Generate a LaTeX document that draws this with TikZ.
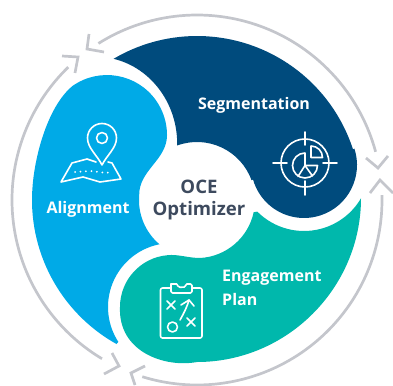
\documentclass[tikz,border=0pt]{standalone}
\usepackage{fontspec}
\setmainfont{Open Sans}
\definecolor{ringgrey}{HTML}{C4C6CC}
\definecolor{bluefill}{HTML}{00AAE7}
\definecolor{navyfill}{HTML}{004B7D}
\definecolor{tealfill}{HTML}{00B8AC}
\definecolor{slatetext}{HTML}{3D4A5E}
\tikzset{
  ringline/.style={draw=ringgrey,line width=2.7pt},
  chevron/.style={draw=ringgrey,line width=2.7pt,miter limit=10},
  iconline/.style={draw=white,line width=1.6pt,line cap=round,line join=round},
  labeltext/.style={text=white,font=\bfseries\fontsize{16}{20}\selectfont,inner sep=0pt},
  hubtext/.style={text=slatetext,font=\bfseries\fontsize{18.6}{23}\selectfont,inner sep=0pt}
}
\begin{document}
\begin{tikzpicture}[x=1pt,y=-1pt]
\useasboundingbox (0,0) rectangle (393,385);
\coordinate (ring) at (197,200);
% outer ring
\draw[ringline] ([shift={(ring)}]-15.1:185) arc (-15.1:-122.2:185);
\draw[ringline] ([shift={(ring)}]-134.1:185) arc (-134.1:-239.1:185);
\draw[ringline] ([shift={(ring)}]-1.5:185) arc (-1.5:107.2:185);
\draw[chevron] (89,34) -- (87,49) -- (104,52);
\draw[chevron] (62,56) -- (78,57) -- (75,73);
\draw[chevron] (112,353) -- (119,366) -- (104,374);
\draw[chevron] (145,366) -- (131,373) -- (135,385);
\draw[chevron] (366,158) -- (378,168) -- (388,156);
\draw[chevron] (370,193) -- (380,180) -- (393,193);
% Alignment lobe
\fill[bluefill] ([shift={(ring)}]119.2:165) arc (119.2:185:165)
  .. controls (35,155) and (48,106) .. (72.6,85.9)
  arc (235:360:60)
  .. controls (167,160) and (139,170) .. (139.2,195)
  arc (185:130:58)
  -- ([shift={(172,307)}]258:64) arc (258:147:64) -- cycle;
% Segmentation lobe
\fill[navyfill] ([shift={(ring)}]-120.6:164) arc (-120.6:-18:164)
  -- ([shift={(304,165)}]-18:53) arc (-18:164:53)
  -- ([shift={(ring)}]-20:58) arc (-20:-110:58)
  .. controls (178,105) and (152,68) .. (113.5,58.8) -- cycle;
% Engagement lobe
\fill[tealfill] (361,198) .. controls (361,288) and (287,362) .. (197,362)
  .. controls (165,368) and (118,352) .. (120,307)
  arc (180:265:52)
  .. controls (178,254) and (188,258) .. (200,258)
  arc (87:12:58)
  -- ([shift={(304,165)}]135:66) arc (135:30:66) -- cycle;
% labels
\node[hubtext] (hubtop) at (199,187) {OCE};
\node[hubtext] (hubbot) at (199,210.5) {Optimizer};
\node[labeltext] (align) at (88,209.5) {Alignment};
\node[labeltext] (segm) at (254,105.5) {Segmentation};
\node[labeltext,anchor=west] (engage) at (222,278) {Engagement};
\node[labeltext,anchor=west] (plan) at (222,299) {Plan};
% pin and map icon
\draw[iconline] (102,165) .. controls (97,155) and (87.5,148) .. (87.5,138) arc (180:360:14.5) .. controls (116.5,148) and (107,155) .. (102,165);
\draw[iconline] (102,138) circle (5.5);
\draw[iconline] (96,162) -- (87,159) -- (72,163) -- (61,182) -- (83,177) -- (100,182) -- (121,179) -- (112,163) -- (108,162);
\draw[iconline,line width=2pt,dash pattern=on 0pt off 5.5pt] (75,172) -- (90,171) -- (107,173) -- (112,171);
% target icon
\draw[iconline] (305,163) circle (24);
\draw[iconline] (273,163) -- (287,163) (323,163) -- (337,163) (305,132) -- (305,145) (305,181) -- (305,195);
\draw[iconline] (305,153) arc (-90:-360:12.5) -- (305,165.5) -- cycle;
\draw[iconline] (305,165.5) -- (298,176.5) (305,165.5) -- (312.5,176);
\draw[iconline] (311,146) arc (-90:0:11.5) -- (311,157.5) -- cycle;
% clipboard icon
\draw[iconline,rounded corners=2pt] (171,288) -- (160.5,288) -- (160.5,338) -- (202,338) -- (202,288) -- (192,288);
\draw[iconline,rounded corners=1.5pt] (171,284) -- (171,293) -- (192,293) -- (192,284) -- (187,284);
\draw[iconline] (187,284) arc (20:160:5.5) -- (171,284);
\draw[iconline] (167,301) -- (175,309) (167,309) -- (175,301);
\draw[iconline] (187,318) -- (195,326) (187,326) -- (195,318);
\draw[iconline] (172.5,327) circle (5);
\draw[iconline] (180,320) .. controls (184,313) and (187,307) .. (189,300);
\draw[iconline] (181,305) -- (189,300) -- (194,306);
\end{tikzpicture}
\end{document}
